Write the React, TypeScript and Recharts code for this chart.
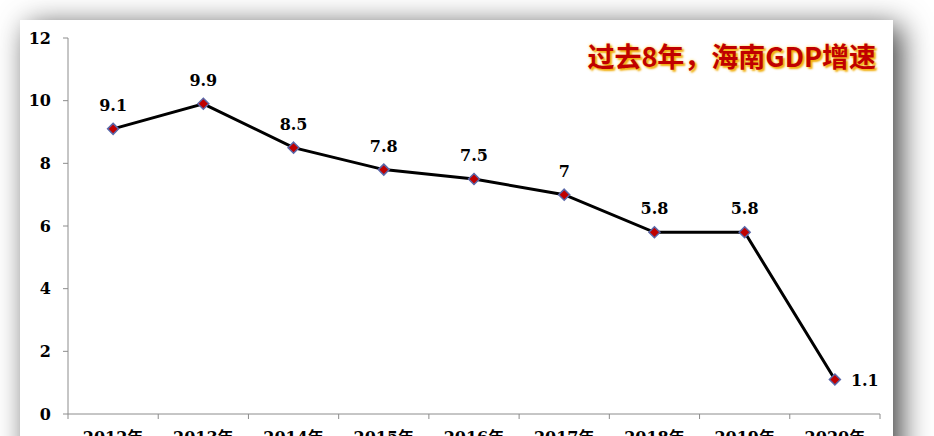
import { LineChart, Line, XAxis, YAxis, LabelList } from "recharts";

const years = ["2012年", "2013年", "2014年", "2015年", "2016年", "2017年", "2018年", "2019年", "2020年"];
const growth = [9.1, 9.9, 8.5, 7.8, 7.5, 7, 5.8, 5.8, 1.1];
const yTicks = [0, 2, 4, 6, 8, 10, 12];

const data = years.map((year, i) => ({ year, growth: growth[i] }));

const W = 934;
const H = 436;
const margin = { top: 38, right: 54, left: 0, bottom: 0 };
const Y_AXIS_W = 68;
const BAND = (W - Y_AXIS_W - margin.right - margin.left) / years.length;
const X_TICK_SIZE = 5;
const X_TICK_MARGIN = 13;
const FONT = "'DejaVu Serif', 'Noto Sans CJK SC', serif";
const AXIS_GREY = "#8c8c8c";

function Diamond(props: any) {
  const { cx, cy } = props;
  if (cx == null || cy == null) return null;
  const r = 5.5;
  return (
    <polygon
      points={`${cx},${cy - r} ${cx + r},${cy} ${cx},${cy + r} ${cx - r},${cy}`}
      fill="#c00000"
      stroke="#5a67a8"
      strokeWidth={1.5}
    />
  );
}

function ValueLabel(props: any) {
  const { x, y, value, index } = props;
  const last = index === growth.length - 1;
  return (
    <text
      x={last ? x + 16 : x}
      y={last ? y + 6 : y - 18}
      textAnchor={last ? "start" : "middle"}
      fontFamily={FONT}
      fontWeight="bold"
      fontSize={16}
      fill="#000"
    >
      {value}
    </text>
  );
}

// label sits at the band centre, the tick mark at the band's left edge (Excel style)
function YearTick(props: any) {
  const { x, y, payload, index } = props;
  const axisY = y - X_TICK_SIZE - X_TICK_MARGIN;
  const left = x - BAND / 2;
  return (
    <g>
      <line x1={left} y1={axisY} x2={left} y2={axisY + X_TICK_SIZE} stroke={AXIS_GREY} />
      {index === years.length - 1 && (
        <line
          x1={left + BAND}
          y1={axisY}
          x2={left + BAND}
          y2={axisY + X_TICK_SIZE}
          stroke={AXIS_GREY}
        />
      )}
      <text
        x={x}
        y={y}
        dy="0.71em"
        textAnchor="middle"
        fontFamily={FONT}
        fontWeight="bold"
        fontSize={16}
        fill="#000"
      >
        {payload.value}
      </text>
    </g>
  );
}

export default function App() {
  return (
    <div
      style={{
        position: "fixed",
        left: 0,
        top: 0,
        width: W,
        height: H,
        overflow: "hidden",
        background: "#fff",
      }}
    >
      <div
        style={{
          position: "absolute",
          left: 20,
          top: 20,
          width: 873,
          height: 520,
          background: "#fff",
          boxShadow: "8px 6px 28px rgba(0,0,0,0.75)",
        }}
      />
      <div style={{ position: "absolute", left: 0, top: 0 }}>
        <LineChart width={W} height={H} data={data} margin={margin}>
          <XAxis
            dataKey="year"
            scale="band"
            interval={0}
            height={22}
            tickLine={false}
            tickSize={X_TICK_SIZE}
            tickMargin={X_TICK_MARGIN}
            axisLine={{ stroke: AXIS_GREY }}
            tick={<YearTick />}
          />
          <YAxis
            width={Y_AXIS_W}
            domain={[0, 12]}
            ticks={yTicks}
            interval={0}
            tickSize={5}
            tickMargin={12}
            axisLine={{ stroke: AXIS_GREY }}
            tickLine={{ stroke: AXIS_GREY }}
            tick={{ fontFamily: FONT, fontWeight: "bold", fontSize: 16, fill: "#000" }}
          />
          <Line
            type="linear"
            dataKey="growth"
            stroke="#000"
            strokeWidth={3}
            dot={<Diamond />}
            activeDot={false}
            isAnimationActive={false}
          >
            <LabelList dataKey="growth" content={<ValueLabel />} />
          </Line>
        </LineChart>
      </div>
      <div
        style={{
          position: "absolute",
          right: 58,
          top: 42,
          fontFamily: "'Noto Sans CJK SC', sans-serif",
          fontWeight: "bold",
          fontSize: 27,
          lineHeight: "27px",
          color: "#c00000",
          whiteSpace: "nowrap",
          textShadow: "2px 2px 2px rgba(240,170,0,0.95), 0 0 3px rgba(255,210,60,0.9)",
        }}
      >
        过去8年，海南GDP增速
      </div>
    </div>
  );
}
